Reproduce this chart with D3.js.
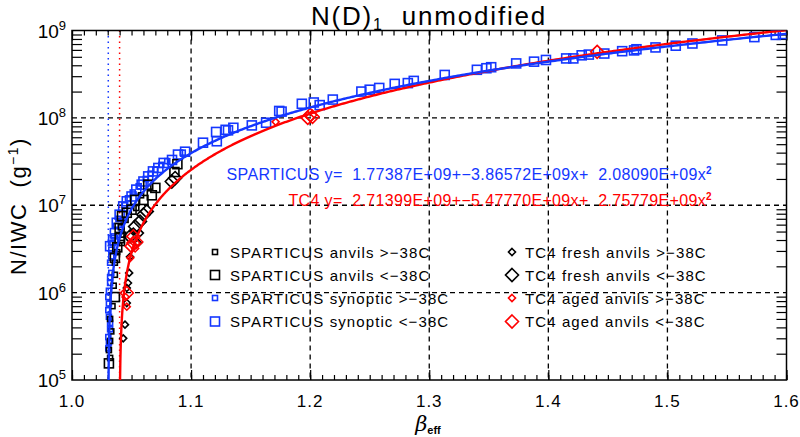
<!DOCTYPE html>
<html><head><meta charset="utf-8">
<script src="https://cdn.jsdelivr.net/npm/d3@7/dist/d3.min.js"></script>
<style>
body{margin:0;background:#fff}
svg{display:block}
text{font-family:"Liberation Sans",Arial,Helvetica,sans-serif;fill:#000;white-space:pre}
</style></head>
<body><svg id="chart" width="800" height="437"></svg>
<script>
// ---------- data ----------
const xTicks = [1.0, 1.1, 1.2, 1.3, 1.4, 1.5, 1.6];
const xTickLabels = ["1.0", "1.1", "1.2", "1.3", "1.4", "1.5", "1.6"];
const yTickExps = [5, 6, 7, 8, 9];
const gridX = [1.1, 1.2, 1.3, 1.4, 1.5];
const gridY = [1e6, 1e7, 1e8];

// fit coefficients (c0 + c1*x + c2*x^2)
const sparFit = [1.77387e9, -3.86572e9, 2.08090e9];
const tc4Fit  = [2.71399e9, -5.47770e9, 2.75779e9];
const sparFitLabel = ["SPARTICUS y=  1.77387E+09+\u22123.86572E+09x+  2.08090E+09x", "2"];
const tc4FitLabel  = ["TC4 y=  2.71399E+09+\u22125.47770E+09x+  2.75779E+09x", "2"];

// [beta_eff, N/IWC]
const sparAnvWarm = [[1.032,1.79e5],[1.031,2.2e5],[1.032,2.8e5],[1.033,3.6e5],[1.032,5.0e5],[1.034,7.0e5],
  [1.035,1.2e6],[1.036,1.6e6],[1.036,2.2e6],[1.038,2.9e6],[1.042,3.7e6],[1.043,4.6e6],[1.041,5.6e6],
  [1.045,6.8e6],[1.054,9.3e6],[1.058,1.3e7]];
const sparAnvCold = [[1.031,1.55e5],[1.036,8.9e5],[1.036,2.5e6],[1.038,3.3e6],[1.040,4.2e6],[1.040,5.5e6],
  [1.042,7.5e6],[1.046,8.2e6],[1.050,8.9e6],[1.053,1.15e7],[1.060,1.15e7],[1.064,1.72e7],[1.070,1.58e7],
  [1.067,1.3e7],[1.0885,2.95e7],[1.086,2.4e7]];
const sparSynWarm = [[1.0305,2.3e5],[1.031,2.7e5],[1.0305,3.1e5],[1.032,3.8e5],[1.032,4.5e5],[1.031,5.3e5],
  [1.0305,6.3e5],[1.031,7.5e5],[1.0305,8.9e5],[1.031,1.05e6],[1.032,1.29e6],[1.032,1.5e6],[1.033,1.68e6],
  [1.032,2.2e6],[1.033,2.6e6],[1.033,3.1e6],[1.034,3.7e6],[1.035,4.4e6],[1.037,5.8e6],[1.039,7.0e6],
  [1.044,1.0e7],[1.047,1.2e7],[1.051,1.4e7],[1.056,1.65e7],[1.062,2.0e7],[1.066,2.3e7],[1.070,2.55e7],
  [1.075,2.9e7],[1.080,3.2e7],[1.093,4.0e7]];
const sparSynCold = [[1.032,3.4e6],[1.0345,4.0e6],[1.036,4.8e6],[1.0376,6.3e6],[1.040,7.8e6],[1.043,9.7e6],
  [1.046,1.11e7],[1.050,1.26e7],[1.054,1.51e7],[1.0585,1.72e7],[1.060,1.87e7],[1.064,2.14e7],[1.068,2.44e7],
  [1.0725,2.67e7],[1.077,3.05e7],[1.084,3.3e7],[1.089,3.8e7],[1.095,4.1e7],[1.110,5.2e7],[1.1216,5.4e7],
  [1.121,6.9e7],[1.129,7.3e7],[1.131,7.2e7],[1.1355,7.7e7],[1.151,8.2e7],[1.163,8.8e7],[1.174,1.2e8],
  [1.176,1.18e8],[1.193,1.45e8],[1.203,1.5e8],[1.208,1.4e8],[1.219,1.62e8],[1.243,2.0e8],[1.250,2.1e8],
  [1.258,2.2e8],[1.271,2.45e8],[1.282,2.5e8],[1.287,2.65e8],[1.313,3.1e8],[1.340,3.55e8],[1.348,3.7e8],
  [1.352,3.8e8],[1.373,4.2e8],[1.388,4.4e8],[1.398,4.6e8],[1.415,4.79e8],[1.421,4.79e8],[1.428,5.2e8],
  [1.434,5.3e8],[1.447,5.45e8],[1.462,5.8e8],[1.472,5.92e8],[1.474,6.1e8],[1.490,6.4e8],[1.507,6.7e8],
  [1.521,7.1e8],[1.546,7.7e8],[1.573,8.4e8],[1.591,8.9e8],[1.597,9.1e8]];
const tc4FreshWarm = [[1.043,3.0e5],[1.0445,4.3e5],[1.046,7.6e5],[1.046,1.13e6],[1.047,1.29e6],[1.048,1.68e6],
  [1.0487,2.57e6],[1.0555,3.7e6],[1.057,4.8e6],[1.0515,5.0e6]];
const tc4FreshCold = [[1.0487,4.4e6],[1.053,5.7e6],[1.0571,6.5e6],[1.060,7.8e6],[1.0628,8.5e6],
  [1.0838,1.87e7],[1.0866,2.05e7]];
const tc4AgedWarm = [[1.046,6.9e5],[1.045,8.9e5],[1.049,2.5e6],[1.053,3.2e6],[1.171,9.0e7]];
const tc4AgedCold = [[1.046,9.9e5],[1.050,3.4e6],[1.0515,3.7e6],[1.054,3.8e6],[1.0515,4.4e6],
  [1.198,1.0e8],[1.200,1.08e8],[1.202,1.03e8],[1.441,5.7e8]];

const legendLeft = ["SPARTICUS anvils >\u221238C","SPARTICUS anvils <\u221238C","SPARTICUS synoptic >\u221238C","SPARTICUS synoptic <\u221238C"];
const legendRight = ["TC4 fresh anvils >\u221238C","TC4 fresh anvils <\u221238C","TC4 aged anvils >\u221238C","TC4 aged anvils <\u221238C"];

// ---------- layout ----------
const BLUE = "#1437ff", RED = "#ff0000", BLACK = "#000";
const X0 = 72, X1 = 786.5, Y0 = 30.5, Y1 = 380;
const svg = d3.select("#chart");
const x = d3.scaleLinear().domain([1, 1.6]).range([X0, X1]);
const y = d3.scaleLog().domain([1e5, 1e9]).range([Y1, Y0]);

svg.append("defs").append("clipPath").attr("id","clip")
  .append("rect").attr("x",X0).attr("y",Y0).attr("width",X1-X0).attr("height",Y1-Y0);

// grid
svg.append("g").selectAll("line").data(gridX).join("line")
  .attr("x1",d=>x(d)).attr("x2",d=>x(d)).attr("y1",Y0).attr("y2",Y1)
  .attr("stroke",BLACK).attr("stroke-width",1.3).attr("stroke-dasharray","5,4");
svg.append("g").selectAll("line").data(gridY).join("line")
  .attr("x1",X0).attr("x2",X1).attr("y1",d=>y(d)).attr("y2",d=>y(d))
  .attr("stroke",BLACK).attr("stroke-width",1.3).attr("stroke-dasharray","5,4");

// roots of fits -> dotted lines
function root(c){ return (-c[1] + Math.sqrt(c[1]*c[1]-4*c[2]*c[0]))/(2*c[2]); }
const rootLines = [[root(sparFit), BLUE],[root(tc4Fit), RED]];
svg.append("g").selectAll("line").data(rootLines).join("line")
  .attr("x1",d=>x(d[0])).attr("x2",d=>x(d[0])).attr("y1",Y0).attr("y2",Y1)
  .attr("stroke",d=>d[1]).attr("stroke-width",1.5).attr("stroke-dasharray","1.5,4");

// ticks
const minorX = d3.range(0,61).map(i=>1+i*0.01);
const minorY = [];
for (let k=5;k<9;k++) for (let m=2;m<=9;m++) minorY.push(m*Math.pow(10,k));
function clean(g){ g.select(".domain").remove(); g.selectAll("text").remove(); g.selectAll("line").attr("stroke-width",1.2); }
svg.append("g").attr("transform",`translate(0,${Y1})`).call(d3.axisBottom(x).tickValues(minorX).tickSize(-5)).call(clean);
svg.append("g").attr("transform",`translate(0,${Y0})`).call(d3.axisTop(x).tickValues(minorX).tickSize(-5)).call(clean);
svg.append("g").attr("transform",`translate(0,${Y1})`).call(d3.axisBottom(x).tickValues(xTicks).tickSize(-10)).call(clean);
svg.append("g").attr("transform",`translate(0,${Y0})`).call(d3.axisTop(x).tickValues(xTicks).tickSize(-10)).call(clean);
svg.append("g").attr("transform",`translate(${X0},0)`).call(d3.axisLeft(y).tickValues(minorY).tickSize(-10)).call(clean);
svg.append("g").attr("transform",`translate(${X1},0)`).call(d3.axisRight(y).tickValues(minorY).tickSize(-10)).call(clean);

// frame
svg.append("rect").attr("x",X0).attr("y",Y0).attr("width",X1-X0).attr("height",Y1-Y0)
  .attr("fill","none").attr("stroke",BLACK).attr("stroke-width",1.5);

// tick labels
svg.append("g").selectAll("text").data(xTicks).join("text")
  .attr("x",d=>x(d)).attr("y",407).attr("text-anchor","middle")
  .style("font-size","17px").style("letter-spacing","1px")
  .text((d,i)=>xTickLabels[i]);
const yl = svg.append("g").selectAll("text").data(yTickExps).join("text")
  .attr("x",66).attr("y",d=>y(Math.pow(10,d))+7).attr("text-anchor","end")
  .style("font-size","19px");
yl.append("tspan").text("10");
yl.append("tspan").attr("dy",-8).style("font-size","13px").text(d=>d);

// data points
const plotG = svg.append("g").attr("clip-path","url(#clip)");
function squares(data, size, color){
  plotG.append("g").selectAll("rect").data(data).join("rect")
    .attr("x",d=>x(d[0])-size/2).attr("y",d=>y(d[1])-size/2)
    .attr("width",size).attr("height",size)
    .attr("fill","none").attr("stroke",color).attr("stroke-width",1.6);
}
function diamonds(data, r, color){
  plotG.append("g").selectAll("path").data(data).join("path")
    .attr("d",d=>{const cx=x(d[0]),cy=y(d[1]);return `M${cx},${cy-r}L${cx+r},${cy}L${cx},${cy+r}L${cx-r},${cy}Z`;})
    .attr("fill","none").attr("stroke",color).attr("stroke-width",1.6);
}
squares(sparSynWarm, 5, BLUE);
squares(sparSynCold, 9, BLUE);
squares(sparAnvWarm, 5, BLACK);
squares(sparAnvCold, 9, BLACK);
diamonds(tc4FreshWarm, 3.5, BLACK);
diamonds(tc4FreshCold, 6.5, BLACK);
diamonds(tc4AgedWarm, 3.5, RED);
diamonds(tc4AgedCold, 6.5, RED);

// fit curves
function fitLine(c, color){
  const r = root(c);
  const pts = d3.range(1,601).map(i=>{const s=i/600; const b=r+(1.6-r)*s*s*s; return [b, c[0]+c[1]*b+c[2]*b*b];})
    .filter(p=>p[1]>1e4);
  plotG.append("path").datum(pts)
    .attr("d",d3.line().x(p=>x(p[0])).y(p=>y(p[1])))
    .attr("fill","none").attr("stroke",color).attr("stroke-width",2.4);
}
fitLine(tc4Fit, RED);
fitLine(sparFit, BLUE);

// fit equations
function eq(lbl, color, xe, yb){
  const t = svg.append("text").attr("x",xe).attr("y",yb).attr("text-anchor","end")
    .attr("xml:space","preserve")
    .style("font-size","16px").style("letter-spacing","0.35px").style("fill",color);
  t.append("tspan").text(lbl[0]);
  t.append("tspan").attr("dy",-6).style("font-size","10px").style("font-weight","bold").text(lbl[1]);
}
eq(sparFitLabel, BLUE, 712, 180);
eq(tc4FitLabel, RED, 712, 206);

// legend
const rowY = [252, 275, 298, 321.5];
const legL = svg.append("g");
legL.selectAll("rect").data(rowY).join("rect")
  .attr("x",(d,i)=>215-(i%2?4.5:2.5)).attr("y",(d,i)=>d-(i%2?4.5:2.5))
  .attr("width",(d,i)=>i%2?9:5).attr("height",(d,i)=>i%2?9:5)
  .attr("fill","none").attr("stroke",(d,i)=>i<2?BLACK:BLUE).attr("stroke-width",1.6);
legL.selectAll("text").data(legendLeft).join("text")
  .attr("x",230).attr("y",(d,i)=>rowY[i]+5.5)
  .style("font-size","15px").style("letter-spacing","1.1px").text(d=>d);
const legR = svg.append("g");
legR.selectAll("path").data(rowY).join("path")
  .attr("d",(d,i)=>{const r=i%2?6.5:3.5, cx=512; return `M${cx},${d-r}L${cx+r},${d}L${cx},${d+r}L${cx-r},${d}Z`;})
  .attr("fill","none").attr("stroke",(d,i)=>i<2?BLACK:RED).attr("stroke-width",1.6);
legR.selectAll("text").data(legendRight).join("text")
  .attr("x",525).attr("y",(d,i)=>rowY[i]+5.5)
  .style("font-size","15px").style("letter-spacing","1.1px").text(d=>d);

// title
const title = svg.append("text").attr("x",429).attr("y",25).attr("text-anchor","middle")
  .attr("xml:space","preserve")
  .style("font-size","26px").style("letter-spacing","1.8px");
title.append("tspan").text("N(D)");
title.append("tspan").attr("dy",5).style("font-size","16px").text("1");
title.append("tspan").attr("dy",-5).text("  unmodified");

// axis titles
const yt = svg.append("text").attr("transform","translate(26,206) rotate(-90)").attr("text-anchor","middle")
  .attr("xml:space","preserve")
  .style("font-size","22px").style("letter-spacing","1.5px");
yt.append("tspan").text("N/IWC  (g");
yt.append("tspan").attr("dy",-8).style("font-size","14px").text("\u22121");
yt.append("tspan").attr("dy",8).text(")");

const xt = svg.append("text").attr("x",428).attr("y",431).attr("text-anchor","middle");
xt.append("tspan").style("font-size","21px").style("font-style","italic").style("font-family","'DejaVu Serif',serif").text("\u03b2");
xt.append("tspan").attr("dy",3).style("font-size","11px").style("font-weight","bold").text("eff");
</script>
</body></html>
